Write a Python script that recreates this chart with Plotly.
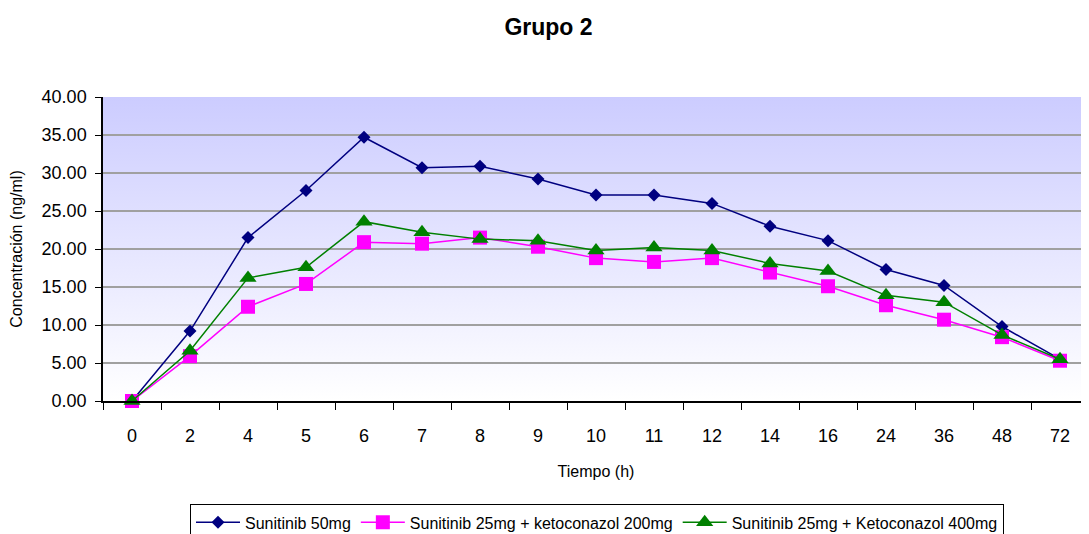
import plotly.graph_objects as go

tiempo = ["0", "2", "4", "5", "6", "7", "8", "9", "10", "11", "12", "14", "16", "24", "36", "48", "72"]
sunitinib_50 = [0.0, 9.2, 21.5, 27.7, 34.7, 30.7, 30.9, 29.2, 27.1, 27.1, 26.0, 23.0, 21.1, 17.3, 15.2, 9.8, 5.5]
keto_200 = [0.0, 5.9, 12.4, 15.4, 20.9, 20.7, 21.5, 20.3, 18.8, 18.3, 18.8, 16.9, 15.1, 12.6, 10.7, 8.4, 5.3]
keto_400 = [0.0, 6.6, 16.2, 17.6, 23.6, 22.2, 21.3, 21.1, 19.8, 20.2, 19.8, 18.1, 17.1, 13.9, 13.0, 8.7, 5.5]

y_ticks = [0, 5, 10, 15, 20, 25, 30, 35, 40]

fig = go.Figure()

fig.add_trace(go.Scatter(
    x=tiempo, y=sunitinib_50, name="Sunitinib 50mg", mode="lines+markers",
    line=dict(color="#000080", width=1.5),
    marker=dict(symbol="diamond", size=10, color="#000080"),
    cliponaxis=False,
))
fig.add_trace(go.Scatter(
    x=tiempo, y=keto_200, name="Sunitinib 25mg + ketoconazol 200mg", mode="lines+markers",
    line=dict(color="#FF00FF", width=1.5),
    marker=dict(symbol="square", size=14, color="#FF00FF"),
    cliponaxis=False,
))
fig.add_trace(go.Scatter(
    x=tiempo, y=keto_400, name="Sunitinib 25mg + Ketoconazol 400mg", mode="lines+markers",
    line=dict(color="#008000", width=1.5),
    marker=dict(symbol="triangle-up", size=15, color="#008000"),
    cliponaxis=False,
))

svg = ("data:image/svg+xml;charset=utf-8,"
       "<svg xmlns='http://www.w3.org/2000/svg' width='100' height='100' preserveAspectRatio='none'>"
       "<defs><linearGradient id='g' x1='0' y1='0' x2='0' y2='1'>"
       "<stop offset='0' stop-color='%23CCCCFF'/><stop offset='1' stop-color='%23FFFFFF'/>"
       "</linearGradient></defs><rect width='100' height='100' fill='url(%23g)'/></svg>")

fig.add_layout_image(dict(
    source=svg, xref="x domain", yref="y domain", x=0, y=1, sizex=1, sizey=1,
    xanchor="left", yanchor="top", sizing="stretch", layer="below",
))

# page body has an 8px margin, so the figure is drawn offset by (8, 8)
fig.update_layout(
    width=1081, height=526,
    margin=dict(l=95, r=0, t=89, b=133, autoexpand=False),
    paper_bgcolor="white", plot_bgcolor="rgba(0,0,0,0)",
    font=dict(family="Liberation Sans, Arial, sans-serif", color="black"),
    title=dict(text="<b>Grupo 2</b>", x=0.5, xanchor="center", y=1 - 19 / 526, yanchor="middle",
               yref="container",
               font=dict(size=23, family="Liberation Sans, Arial, sans-serif")),
    showlegend=True,
    legend=dict(
        orientation="h", x=(589 - 95) / 986, xanchor="center", y=-0.34, yanchor="top",
        bordercolor="black", borderwidth=1, bgcolor="white",
        font=dict(size=16, family="Liberation Sans, Arial, sans-serif"),
        itemwidth=44, tracegroupgap=0,
    ),
)

fig.update_xaxes(
    type="category", range=[-0.5, len(tiempo) - 0.5], tickson="boundaries",
    ticks="outside", ticklen=7, tickcolor="black", tickwidth=1,
    showline=True, linecolor="black", linewidth=1.5, showgrid=False,
    tickfont=dict(size=18), zeroline=False, automargin=False, ticklabelstandoff=18,
    title=dict(text="Tiempo (h)", font=dict(size=16), standoff=20),
)
fig.update_yaxes(
    range=[0, 40], tickvals=y_ticks, tickformat=".2f",
    ticks="outside", ticklen=6, tickcolor="black", tickwidth=1,
    showline=True, linecolor="black", linewidth=1.5,
    showgrid=True, gridcolor="#A0A0A0", gridwidth=1.5, zeroline=False,
    tickfont=dict(size=18), automargin=False, ticklabelstandoff=5,
    title=dict(text="Concentración (ng/ml)", font=dict(size=16), standoff=22),
)

fig.write_html("out.html")
